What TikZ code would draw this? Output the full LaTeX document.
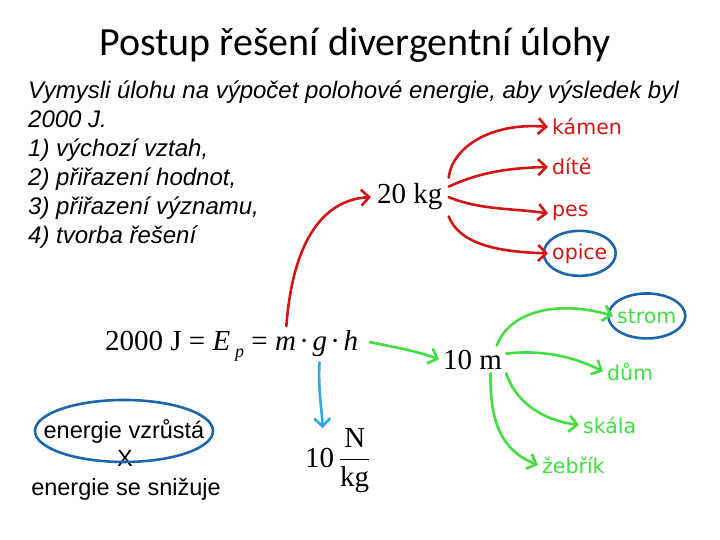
\RequirePackage{fix-cm}
\documentclass[tikz,border=0pt]{standalone}
\usepackage{amsmath}
\usepackage{fontspec}
\setmainfont{Liberation Serif}
\newfontfamily\titlefont{Carlito}
\newfontfamily\bodyfont{Liberation Sans}
\newfontfamily\handfont{DejaVu Sans}
\usetikzlibrary{arrows.meta, positioning}

\definecolor{inkred}{RGB}{210,22,22}
\definecolor{inkgreen}{RGB}{66,222,66}
\definecolor{inkblue}{RGB}{44,170,226}
\definecolor{ovalblue}{RGB}{28,102,170}

\begin{document}
\begin{tikzpicture}[x=1pt, y=-1pt,
  ink/.style={line width=2.6pt, line cap=round, -{Straight Barb[length=8pt, width=16pt]}},
  redink/.style={ink, draw=inkred},
  greenink/.style={ink, draw=inkgreen},
  blueink/.style={ink, draw=inkblue},
  oval/.style={line width=2.6pt, draw=ovalblue},
  big/.style={inner sep=0pt, font=\fontsize{29}{32}\selectfont},
  word/.style={inner sep=4pt, font=\handfont\fontsize{20.5}{24}\selectfont},
  sans/.style={inner sep=0pt, font=\bodyfont\fontsize{23.5}{28}\selectfont}]
\fill[white] (0,0) rectangle (720,540);
\useasboundingbox (0,0) rectangle (720,540);

% heading and task
\node[anchor=base, font=\titlefont\fontsize{40}{44}\selectfont] (title) at (355,56) {Postup řešení divergentní úlohy};
\node[inner sep=0pt, anchor=north west, align=left, font=\bodyfont\itshape\fontsize{24}{29}\selectfont] (task) at (28,81)
  {Vymysli úlohu na výpočet polohové energie, aby výsledek byl\\2000 J.\\1) výchozí vztah,\\2) přiřazení hodnot,\\3) přiřazení významu,\\4) tvorba řešení};

% the relation
\node[big, anchor=base west] (eq) at (105,350) {2000 J = \textit{E}\,\raisebox{-0.6ex}{\fontsize{18}{18}\selectfont\textit{p}} =};
\node[big, base right=7pt of eq] (mv) {\textit{m}};
\node[big, base right=3pt of mv] (d1) {·};
\node[big, base right=3pt of d1] (gv) {\textit{g}};
\node[big, base right=3pt of gv] (d2) {·};
\node[big, base right=3pt of d2] (hv) {\textit{h}};

% mass
\node[big, inner sep=6pt, anchor=base west] (kg20) at (371,204) {20 kg};
\node[word, text=inkred, anchor=base west] (kamen) at (548,135) {kámen};
\node[word, text=inkred, anchor=base west] (dite) at (548,175) {dítě};
\node[word, text=inkred, anchor=base west] (pes) at (548,217) {pes};
\node[word, text=inkred, anchor=base west] (opice) at (548,259) {opice};
\draw[oval] (opice.center) ellipse [x radius=36, y radius=22.5];
\draw[redink, shorten <=10pt] (mv.north) .. controls (292,250) and (318,200) .. (kg20.west);
\draw[redink] (kg20.north east) .. controls (452,148) and (490,122) .. (kamen.west);
\draw[redink] (kg20.15) .. controls (480,172) and (510,168) .. (dite.west);
\draw[redink] (kg20.east) .. controls (480,210) and (510,208) .. (pes.west);
\draw[redink] (kg20.south east) .. controls (460,245) and (500,252) .. (opice.west);

% height
\node[big, inner sep=4pt, anchor=base west] (m10) at (439,369) {10 m};
\node[word, text=inkgreen, anchor=base west] (strom) at (613,323) {strom};
\node[word, text=inkgreen, anchor=base west] (dum) at (603,380) {dům};
\node[word, text=inkgreen, anchor=base west] (skala) at (579,433) {skála};
\node[word, text=inkgreen, anchor=base west] (zebrik) at (538,473) {žebřík};
\draw[oval] (strom.center) ellipse [x radius=38.5, y radius=22.5];
\draw[greenink, shorten <=12pt] (hv.east) .. controls (400,348) and (420,352) .. (m10.west);
\draw[greenink] (m10.30) .. controls (510,310) and (560,300) .. (strom.west);
\draw[greenink] (m10.10) .. controls (540,350) and (570,355) .. (dum.west);
\draw[greenink] (m10.south east) .. controls (515,400) and (540,420) .. (skala.west);
\draw[greenink] (m10.-38) .. controls (490,420) and (500,450) .. (zebrik.west);

% gravity
\node[big, anchor=base west] (g10) at (305,467) {10\,$\dfrac{\text{N}}{\text{kg}}$};
\draw[blueink, shorten <=6pt] (gv.south) .. controls (318,390) and (322,410) .. (g10.115);

% sign of the change
\node[sans, anchor=base] (up) at (124,438) {energie vzrůstá};
\node[sans, anchor=base] (cross) at (125,466) {X};
\node[sans, anchor=base] (down) at (126,495) {energie se snižuje};
\draw[oval] (up.center) ellipse [x radius=89, y radius=31];
\end{tikzpicture}
\end{document}
